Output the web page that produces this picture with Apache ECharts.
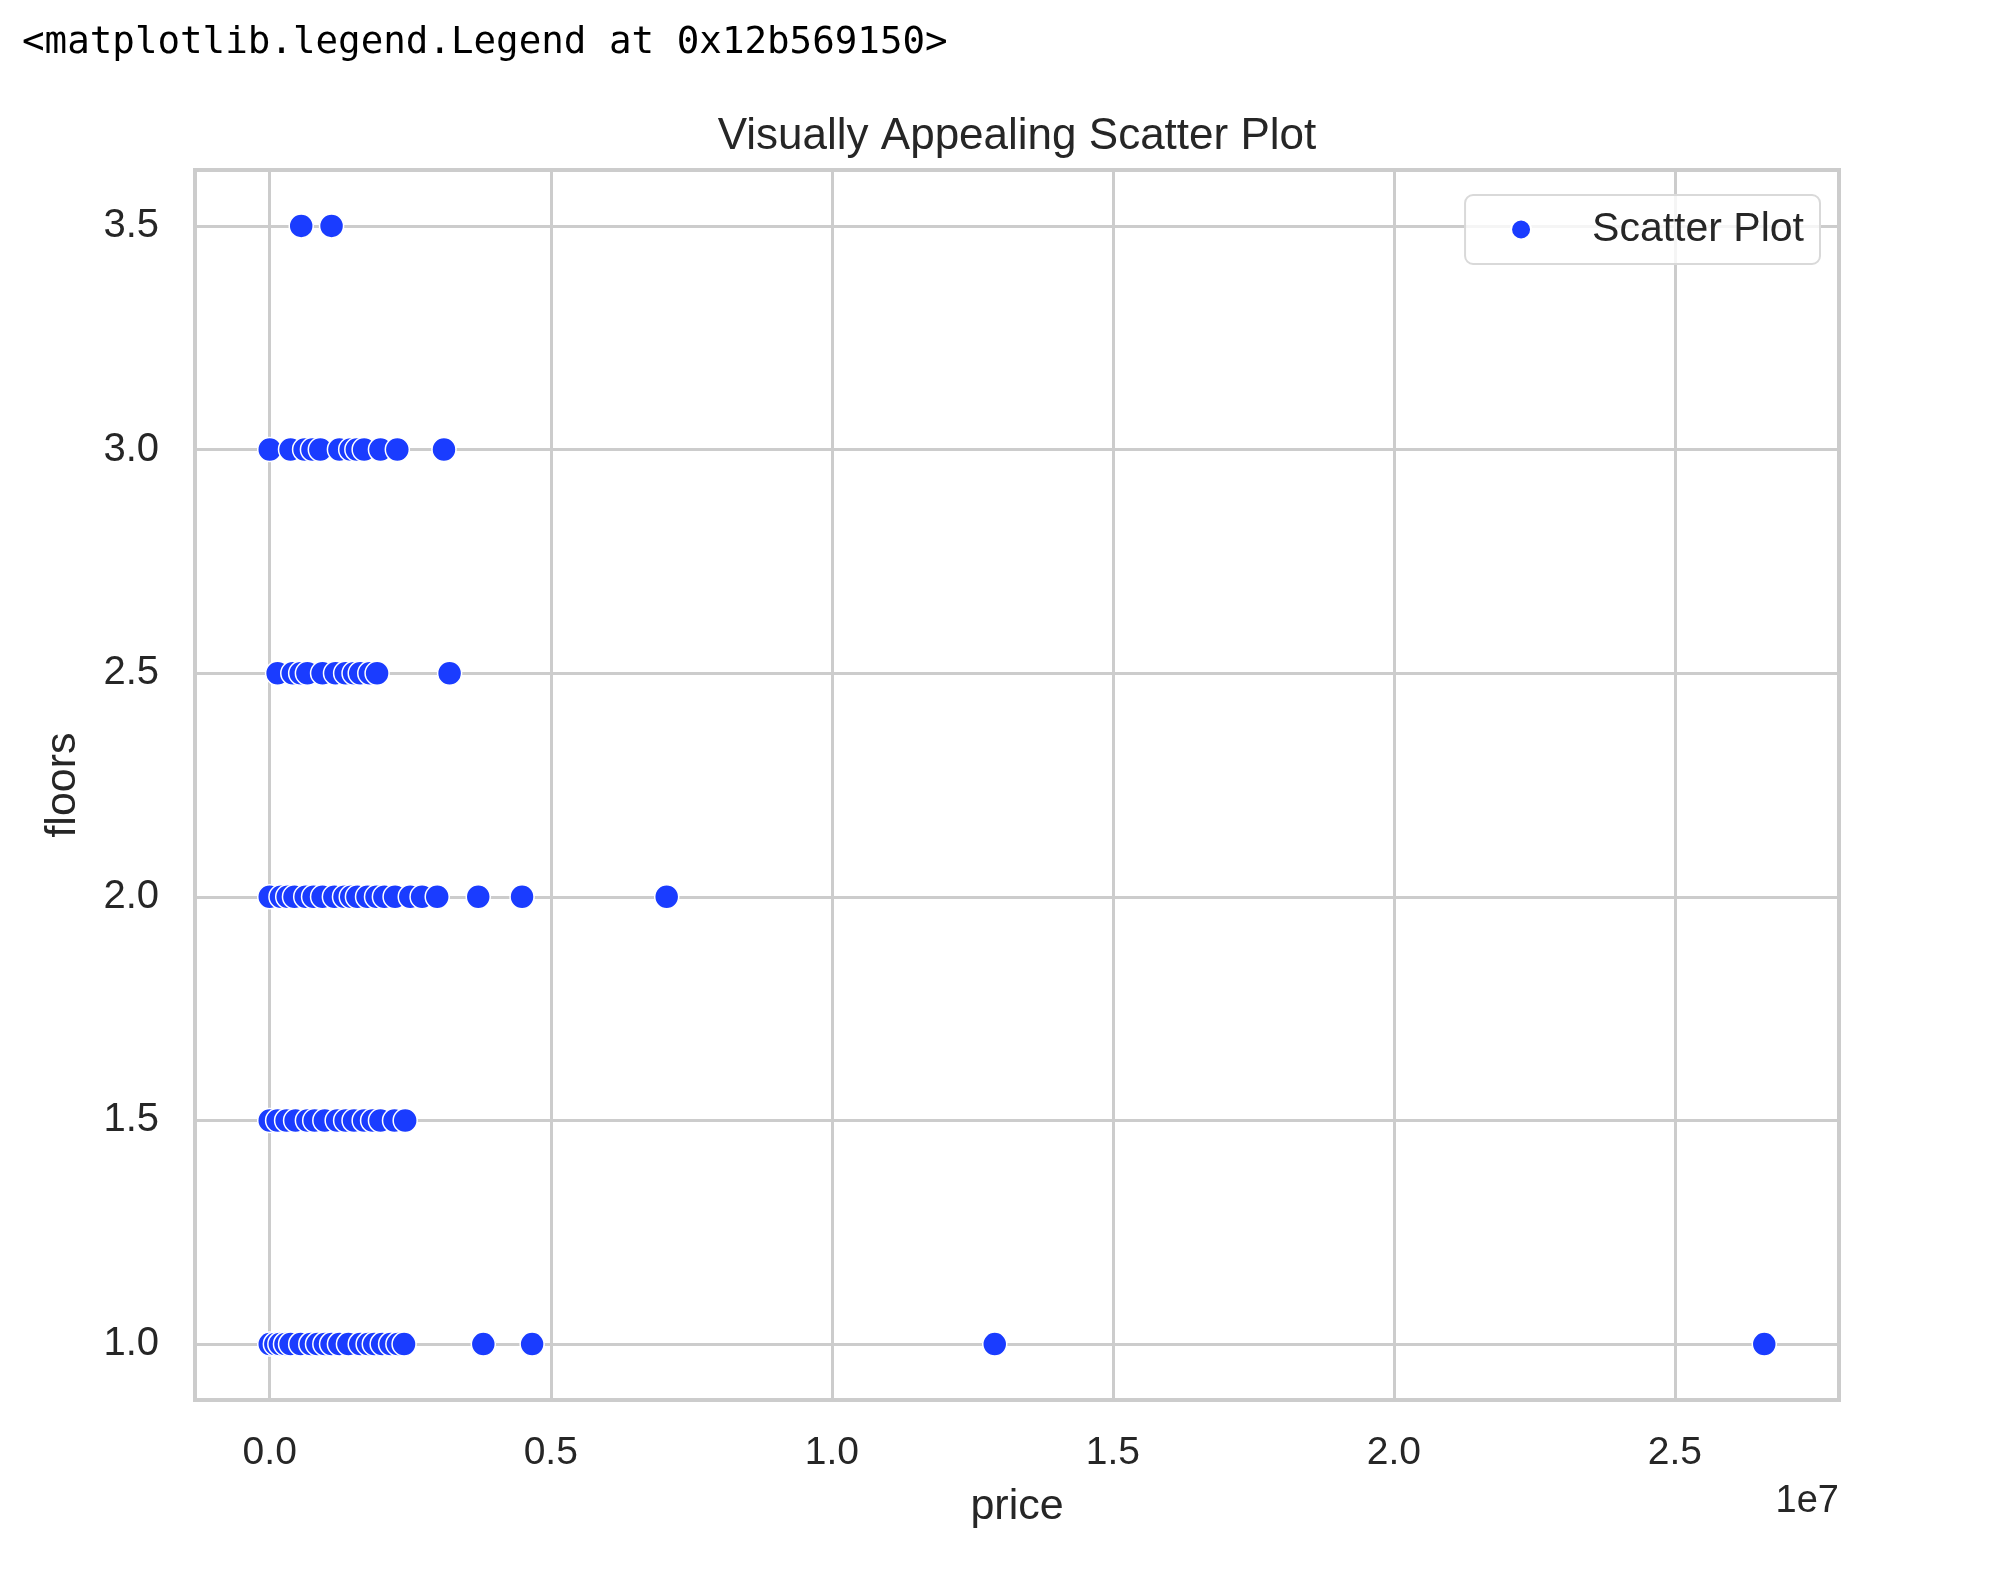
<!DOCTYPE html>
<html>
<head>
<meta charset="utf-8">
<script src="https://cdn.jsdelivr.net/npm/echarts@6/dist/echarts.min.js"></script>
<style>
html,body{margin:0;padding:0;background:#fff;}
#chart{width:2000px;height:1575px;}
</style>
</head>
<body>
<div id="chart"></div>
<script>
// Data (price in dollars, grouped by floors)
const floorLevels = [1.0, 1.5, 2.0, 2.5, 3.0, 3.5];
const pricesFloor1 = [0, 100000, 180000, 280000, 370000, 550000, 730000, 850000, 980000, 1100000, 1240000, 1400000, 1610000, 1750000, 1860000, 2000000, 2150000, 2280000, 2390000, 3800000, 4668000, 12899000, 26590000];
const pricesFloor15 = [0, 140000, 300000, 460000, 670000, 800000, 980000, 1200000, 1350000, 1500000, 1680000, 1830000, 1970000, 2220000, 2410000];
const pricesFloor2 = [0, 200000, 320000, 440000, 640000, 780000, 940000, 1150000, 1330000, 1450000, 1560000, 1740000, 1900000, 2040000, 2230000, 2500000, 2710000, 2980000, 3710000, 4489000, 7062500];
const pricesFloor25 = [140000, 410000, 550000, 670000, 940000, 1170000, 1350000, 1500000, 1610000, 1780000, 1910000, 3200000];
const pricesFloor3 = [0, 370000, 620000, 760000, 900000, 1240000, 1440000, 1550000, 1680000, 1970000, 2270000, 3100000];
const pricesFloor35 = [560000, 1100000];
const priceGroups = [pricesFloor1, pricesFloor15, pricesFloor2, pricesFloor25, pricesFloor3, pricesFloor35];
const xTickScale = 1e7;
const headerText = '<matplotlib.legend.Legend at 0x12b569150>';
const chartTitle = 'Visually Appealing Scatter Plot';
const seriesName = 'Scatter Plot';
const xName = 'price';
const yName = 'floors';
const xOffsetText = '1e7';

const points = [];
priceGroups.forEach(function (arr, i) {
  arr.forEach(function (p) { points.push([p, floorLevels[i]]); });
});

const xMin = -1329500, xMax = 27919500;
const yMin = 0.875, yMax = 3.625;

const chart = echarts.init(document.getElementById('chart'));
const font = '"Liberation Sans", Arial, Helvetica, sans-serif';
const textColor = '#262626';
chart.setOption({
  backgroundColor: '#ffffff',
  animation: false,
  title: {
    text: chartTitle,
    left: 1012,
    top: 110,
    textAlign: 'center',
    textStyle: { fontFamily: font, fontSize: 44, fontWeight: 'normal', color: textColor }
  },
  legend: {
    data: [seriesName],
    right: 180,
    top: 195,
    padding: [14, 16, 14, 45],
    itemWidth: 20,
    itemHeight: 20,
    icon: 'circle',
    backgroundColor: 'rgba(255,255,255,0.8)',
    borderColor: '#d9d9d9',
    borderWidth: 2,
    borderRadius: 8,
    textStyle: { fontFamily: font, fontSize: 41, color: textColor, padding: [0, 0, 0, 56] }
  },
  grid: {
    left: 195, right: 161, top: 170, bottom: 175,
    show: true, borderColor: '#cccccc', borderWidth: 4, backgroundColor: 'transparent'
  },
  xAxis: {
    type: 'value',
    min: xMin, max: xMax,
    name: xName,
    nameLocation: 'middle',
    nameGap: 86,
    nameTextStyle: { fontFamily: font, fontSize: 43, color: textColor },
    axisLine: { show: false },
    axisTick: { show: false },
    splitLine: { show: true, lineStyle: { color: '#cccccc', width: 3 } },
    axisLabel: {
      showMinLabel: false, showMaxLabel: false,
      margin: 34,
      fontFamily: font, fontSize: 39, color: textColor,
      formatter: function (v) { return (v / xTickScale).toFixed(1); }
    }
  },
  yAxis: {
    type: 'value',
    min: yMin, max: yMax,
    name: yName,
    nameLocation: 'middle',
    nameGap: 110,
    nameTextStyle: { fontFamily: font, fontSize: 43, color: textColor },
    axisLine: { show: false },
    axisTick: { show: false },
    splitLine: { show: true, lineStyle: { color: '#cccccc', width: 3 } },
    axisLabel: {
      showMinLabel: false, showMaxLabel: false,
      margin: 36,
      fontFamily: font, fontSize: 40, color: textColor,
      formatter: function (v) { return v.toFixed(1); }
    }
  },
  graphic: [
    {
      type: 'text', left: 22, top: 24,
      style: { text: headerText, fontFamily: '"DejaVu Sans Mono", monospace', fontSize: 37.5, fill: '#000000' }
    },
    {
      type: 'text', right: 161, top: 1483,
      style: { text: xOffsetText, fontFamily: font, fontSize: 38, fill: textColor }
    }
  ],
  series: [{
    name: seriesName,
    type: 'scatter',
    data: points,
    symbolSize: 24,
    itemStyle: { color: '#1a3cff', borderColor: '#ffffff', borderWidth: 1.5, opacity: 1 }
  }]
});
</script>
</body>
</html>
